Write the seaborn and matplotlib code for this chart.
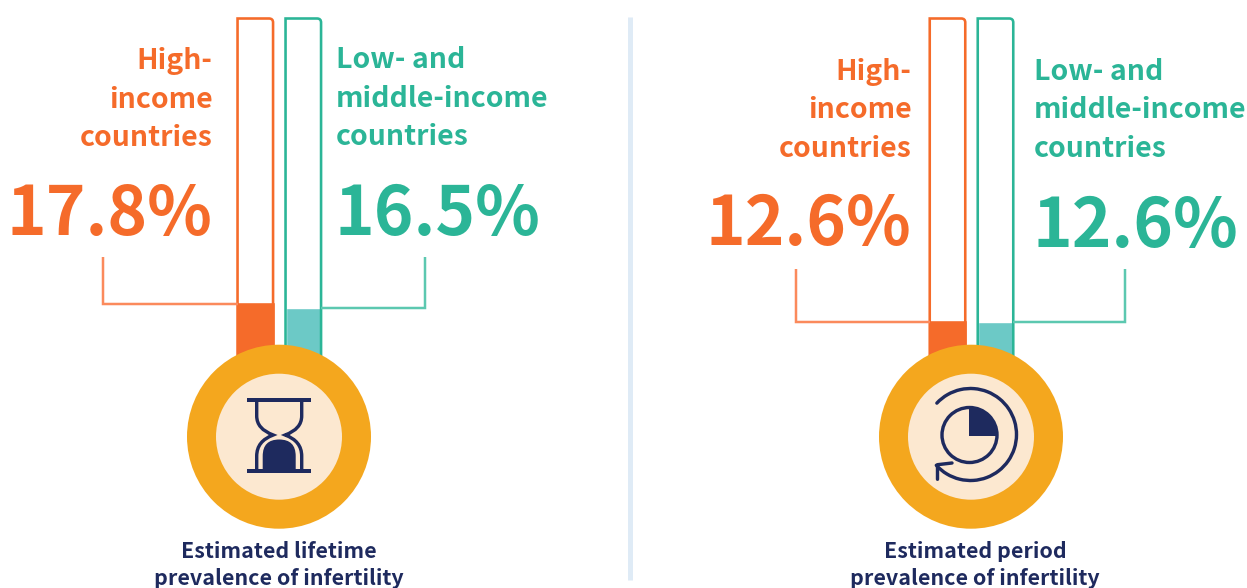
import numpy as np
import matplotlib
matplotlib.use("Agg")
import matplotlib.pyplot as plt
import seaborn as sns
from matplotlib.patches import Circle, PathPatch, Wedge, Arc
from matplotlib.path import Path

# data
income_groups = ["High-income countries", "Low- and middle-income countries"]
lifetime_values = [17.8, 16.5]
period_values = [12.6, 12.6]
lifetime_labels = ["17.8%", "16.5%"]
period_labels = ["12.6%", "12.6%"]
high_lines = ["High-", "income", "countries"]
low_lines = ["Low- and", "middle-income", "countries"]
lifetime_caption = ["Estimated lifetime", "prevalence of infertility"]
period_caption = ["Estimated period", "prevalence of infertility"]

ORANGE = "#F56B2A"
ORANGE_LINE = "#FB8A5C"
TEAL = "#2BB597"
TEAL_FILL = "#6CC9C6"
TEAL_LINE = "#5CC8B0"
AMBER = "#F4A71E"
CREAM = "#FCE8D0"
NAVY = "#1E2A5E"
W, H = 1247, 588
PX = 0.72  # 1 pixel in points at dpi 100

sns.set_theme(style="white")
plt.rcParams["font.family"] = ["Noto Sans CJK SC", "DejaVu Sans"]

fig = plt.figure(figsize=(W / 100, H / 100), dpi=100)
overlay = fig.add_axes([0, 0, 1, 1], zorder=5)
overlay.set_xlim(0, W)
overlay.set_ylim(H, 0)
overlay.axis("off")
overlay.patch.set_alpha(0)


def draw_panel(left, values):
    # tube axes: 0 to 100 percent
    ax = fig.add_axes([left / W, (H - 365.3) / H, 96 / W, 346.8 / H], zorder=1)
    sns.barplot(x=income_groups, y=values, hue=income_groups, palette=[ORANGE, TEAL_FILL],
                width=0.74, saturation=1, legend=False, ax=ax)
    ax.set_xlim(-0.5, 1.5)
    ax.set_ylim(0, 100)
    ax.axis("off")
    fig.canvas.draw()

    levels = []
    edges = []
    for bar, colour in zip(ax.patches, [ORANGE, TEAL]):
        x0, y1 = ax.transData.transform((bar.get_x(), bar.get_height()))
        x1, _ = ax.transData.transform((bar.get_x() + bar.get_width(), 0))
        _, top = ax.transData.transform((0, 100))
        _, bot = ax.transData.transform((0, 0))
        levels.append(H - y1)
        edges.append((x0, x1))
        top, bot = H - top, H - bot
        verts = [(x0, bot), (x0, top), (x1 - 4, top), (x1, top), (x1, top + 4), (x1, bot)]
        codes = [Path.MOVETO, Path.LINETO, Path.LINETO, Path.CURVE3, Path.CURVE3, Path.LINETO]
        overlay.add_patch(PathPatch(Path(verts, codes), fc="none", ec=colour, lw=2.6 * PX))
    # orange fill covers the border width too
    ax.patches[0].set_edgecolor(ORANGE)
    ax.patches[0].set_linewidth(2.6 * PX)
    return levels, edges


def draw_leaders(levels, edges, x_high, x_low, y_top):
    overlay.plot([x_high, x_high, edges[0][0]], [y_top, levels[0], levels[0]], color=ORANGE_LINE,
                 lw=2.5 * PX, solid_joinstyle="miter", solid_capstyle="butt")
    overlay.plot([x_low, x_low, edges[1][1]], [y_top, levels[1], levels[1]], color=TEAL_LINE,
                 lw=2.5 * PX, solid_joinstyle="miter", solid_capstyle="butt")


def draw_badge(cx, cy):
    overlay.add_patch(Circle((cx, cy), 92, fc=AMBER, ec="none"))
    overlay.add_patch(Circle((cx, cy), 63, fc=CREAM, ec="none"))


def draw_hourglass(cx):
    lw = 3.4 * PX
    for y in [399.7, 471]:
        overlay.plot([cx - 32, cx + 32], [y, y], color=NAVY, lw=4 * PX, solid_capstyle="butt")
    for s in [-1, 1]:
        verts = [(cx + s * 22.5, 400), (cx + s * 22.5, 416),
                 (cx + s * 22.5, 429), (cx + s * 6, 435),
                 (cx + s * 22.5, 441), (cx + s * 22.5, 456), (cx + s * 22.5, 471)]
        codes = [Path.MOVETO, Path.LINETO, Path.CURVE3, Path.CURVE3, Path.CURVE3, Path.CURVE3, Path.LINETO]
        overlay.add_patch(PathPatch(Path(verts, codes), fc="none", ec=NAVY, lw=lw, joinstyle="miter"))
    dome = [(cx - 16.5, 471), (cx - 16.5, 456), (cx - 16.5, 439.5), (cx, 439.5),
            (cx + 16.5, 439.5), (cx + 16.5, 456), (cx + 16.5, 471), (cx - 16.5, 471)]
    codes = [Path.MOVETO, Path.LINETO, Path.CURVE3, Path.CURVE3, Path.CURVE3, Path.CURVE3, Path.LINETO, Path.CLOSEPOLY]
    overlay.add_patch(PathPatch(Path(dome, codes), fc=NAVY, ec="none"))


def draw_clock(cx, cy):
    lw = 3.4 * PX
    # axes y is inverted so angles run clockwise on screen
    overlay.add_patch(Wedge((cx - 1, cy + 1.5), 29, -90, 0, fc=NAVY, ec="none"))
    overlay.add_patch(Circle((cx - 0.5, cy + 0.5), 27.5, fc="none", ec=NAVY, lw=lw))
    overlay.add_patch(Arc((cx + 0.5, cy), 92, 92, theta1=-137, theta2=138, ec=NAVY, lw=lw, capstyle="round"))
    overlay.plot([cx - 18, cx - 32.5, cx - 32.5], [463, 464.7, 479.3], color=NAVY, lw=lw,
                 solid_capstyle="round", solid_joinstyle="round")


def put_lines(lines, x, baselines, colour, ha):
    for line, y in zip(lines, baselines):
        overlay.text(x, y, line, color=colour, ha=ha, va="baseline", fontsize=LABEL_SIZE, fontweight="bold")


LABEL_SIZE = 20.5
VALUE_SIZE = 48.5
CAPTION_SIZE = 15.4

# divider between the two panels
overlay.plot([630, 630], [17, 580], color="#DFEBF6", lw=5 * PX, solid_capstyle="butt")

# lifetime panel
levels, edges = draw_panel(231.3, lifetime_values)
draw_leaders(levels, edges, 103, 425, 257)
draw_badge(279, 436.7)
draw_hourglass(279.2)
put_lines(high_lines, 212.5, [69, 107.5, 146], ORANGE, "right")
put_lines(low_lines, 335.5, [68.5, 107, 145], TEAL, "left")
overlay.text(212.5, 234.5, lifetime_labels[0], color=ORANGE, ha="right", va="baseline", fontsize=VALUE_SIZE, fontweight="bold")
overlay.text(335, 234.5, lifetime_labels[1], color=TEAL, ha="left", va="baseline", fontsize=VALUE_SIZE, fontweight="bold")
for line, y in zip(lifetime_caption, [557.5, 585]):
    overlay.text(279, y, line, color=NAVY, ha="center", va="baseline", fontsize=CAPTION_SIZE, fontweight="bold")

# period panel
levels, edges = draw_panel(923.5, period_values)
draw_leaders(levels, edges, 795.5, 1125, 269)
draw_badge(971, 436.7)
draw_clock(970, 434.5)
put_lines(high_lines, 911.5, [80.5, 118.5, 157], ORANGE, "right")
put_lines(low_lines, 1033.5, [80.5, 118.5, 157], TEAL, "left")
overlay.text(911.5, 244.5, period_labels[0], color=ORANGE, ha="right", va="baseline", fontsize=VALUE_SIZE, fontweight="bold")
overlay.text(1032.5, 247, period_labels[1], color=TEAL, ha="left", va="baseline", fontsize=VALUE_SIZE, fontweight="bold")
for line, y in zip(period_caption, [557.5, 585]):
    overlay.text(975, y, line, color=NAVY, ha="center", va="baseline", fontsize=CAPTION_SIZE, fontweight="bold")

fig.savefig("out.png", dpi=100)
